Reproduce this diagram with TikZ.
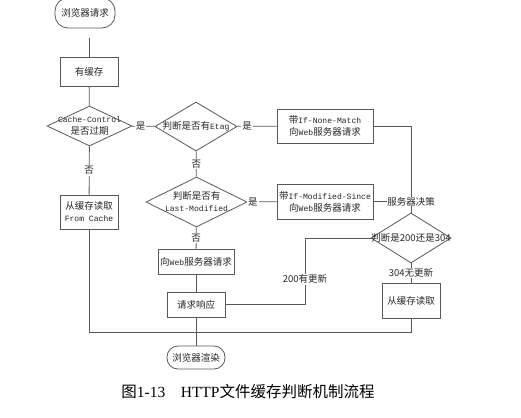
\documentclass[tikz,border=0pt]{standalone}
\usepackage{fontspec}
\setmainfont{Liberation Mono}[Scale=0.85]
\newfontfamily\cjk{Noto Sans CJK SC}
\newfontfamily\capserif{Liberation Serif}
\usepackage{tikz}
\usetikzlibrary{shapes,arrows}
\usetikzlibrary{positioning}

\begin{document}
\begin{tikzpicture}[x=1pt,y=-1pt,
  every node/.style={font=\fontsize{9.5}{12}\selectfont,text=black!85,align=center},
  flowline/.style={draw=black!65,line width=0.8pt},
  box/.style={flowline,rectangle,inner sep=0pt},
  term/.style={flowline,rectangle,rounded corners=11pt,inner sep=0pt,
    minimum width=58pt,minimum height=23pt},
  dec/.style={flowline,diamond,inner sep=0pt},
  lbl/.style={fill=white,inner sep=1pt}]

  \useasboundingbox (0,0) rectangle (521,417);

  % start / end
  \node[term,rounded corners=13pt,minimum width=60pt,minimum height=30pt] (start) at (85,13) {\cjk 浏览器请求};
  \node[term] (render) at (196,357.5) {\cjk 浏览器渲染};

  % left column
  \node[box,minimum width=58pt,minimum height=29pt] (cached) at (89,72) {\cjk 有缓存};
  \node[dec,minimum width=85pt,minimum height=40pt] (expired) at (89.5,126) {};
  \node (expiredtxt) at (expired) {Cache-Control\\{\cjk 是否过期}};
  \node[box,minimum width=58pt,minimum height=34pt] (fromcache) at (89,212) {{\cjk 从缓存读取}\\From Cache};

  % middle column
  \node[dec,minimum width=82pt,minimum height=49pt] (etag) at (196,126.5) {};
  \node (etagtxt) at (etag) {{\cjk 判断是否有}Etag};
  \node[dec,minimum width=101pt,minimum height=50pt] (lastmod) at (196.5,202) {};
  \node (lastmodtxt) at (lastmod) {{\cjk 判断是否有}\\Last-Modified};
  \node[box,minimum width=76pt,minimum height=25pt] (webreq) at (196,261.5) {{\cjk 向}Web{\cjk 服务器请求}};
  \node[box,minimum width=58pt,minimum height=25pt] (resp) at (196,304.5) {\cjk 请求响应};

  % right column
  \node[box,minimum width=96pt,minimum height=34pt] (nonematch) at (325,126) {{\cjk 带}If-None-Match\\{\cjk 向}Web{\cjk 服务器请求}};
  \node[box,minimum width=96pt,minimum height=35pt] (modsince) at (325,201.5) {{\cjk 带}If-Modified-Since\\{\cjk 向}Web{\cjk 服务器请求}};
  \node[dec,minimum width=80pt,minimum height=50pt] (status) at (411,238) {};
  \node[inner sep=0pt] (statustxt) at (status) {\cjk 判断是200还是304};
  \node[box,minimum width=58pt,minimum height=35pt] (cache2) at (411,300.5) {\cjk 从缓存读取};

  % connectors
  \draw[flowline,shorten <=10pt] (cached.north |- start.south) -- (cached);
  \draw[flowline] (cached) -- (expired);
  \draw[flowline] (expired) -- node[lbl,pos=0.38] (y1) {\cjk 是} (etag);
  \draw[flowline] (etag) -- node[lbl,pos=0.25] (y2) {\cjk 是} (nonematch);
  \draw[flowline] (expired) -- node[lbl] (n1) {\cjk 否} (fromcache);
  \draw[flowline] (etag) -- node[lbl] (n2) {\cjk 否} (lastmod);
  \draw[flowline] (lastmod) -- node[lbl,pos=0.2] (y3) {\cjk 是} (modsince);
  \draw[flowline] (lastmod) -- node[lbl] (n3) {\cjk 否} (webreq);
  \draw[flowline] (webreq) -- (resp);
  \draw[flowline] (resp) -- (render);

  % server decision
  \coordinate (decide) at (modsince.east -| status.north);
  \draw[flowline] (nonematch.east) -| (status.north);
  \draw[flowline] (modsince.east) -- (decide);
  \node[lbl,inner sep=0.5pt] (decidetxt) at (decide) {\cjk 服务器决策};

  \coordinate (upd) at (305,0);
  \draw[flowline] (resp.east) -- (resp.east -| upd) -- node[lbl,pos=0.38] (updtxt) {\cjk 200有更新} (status.west -| upd) -- (status.west);
  \draw[flowline] (status) -- node[lbl] (nupd) {\cjk 304无更新} (cache2);

  % merge
  \coordinate (merge) at (196,332);
  \draw[flowline] (fromcache.south) |- (cache2.south |- merge) -- (cache2.south);

  % caption
  \node[font=\fontsize{15.5}{18}\selectfont,text=black] (caption) at (248,392)
    {{\cjk 图}\capserif 1-13\hspace{1em}HTTP{\cjk 文件缓存判断机制流程}};

\end{tikzpicture}
\end{document}
